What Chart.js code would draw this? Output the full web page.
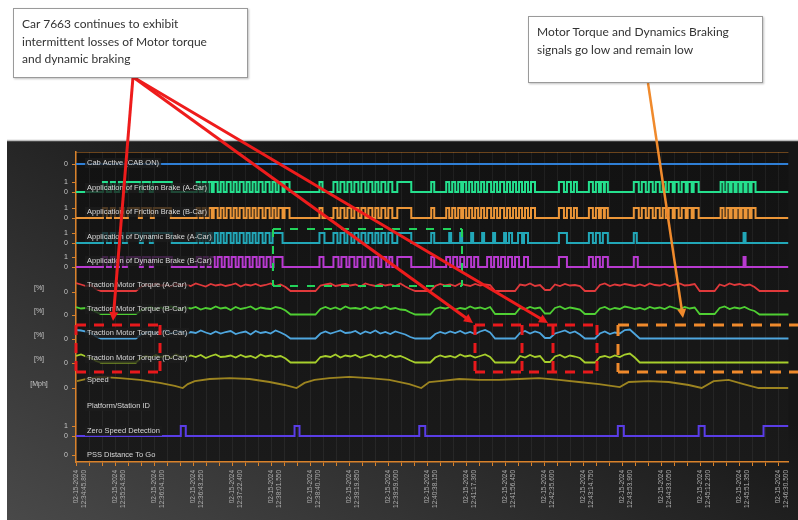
<!DOCTYPE html>
<html><head><meta charset="utf-8">
<script src="https://cdn.jsdelivr.net/npm/chart.js@4.4.1/dist/chart.umd.min.js"></script>
<style>
html,body{margin:0;padding:0;background:#fff;width:798px;height:520px;overflow:hidden;}
#wrap{position:relative;width:798px;height:520px;}
canvas{position:absolute;left:0;top:0;}
.note{position:absolute;background:#fff;border:1.5px solid #9a9a9a;box-shadow:1px 1px 2px rgba(0,0,0,0.25);font-family:Lato,'Open Sans',sans-serif;font-size:12px;line-height:17.5px;color:#333;padding:6px 8px;box-sizing:border-box;white-space:nowrap;}
</style></head><body>
<div id="wrap"><canvas id="c" width="798" height="520"></canvas>
<div class="note" style="left:13px;top:8px;width:235px;height:70px;">Car 7663 continues to exhibit<br>intermittent losses of Motor torque<br>and dynamic braking</div>
<div class="note" style="left:528px;top:16px;width:235px;height:67px;">Motor Torque and Dynamics Braking<br>signals go low and remain low</div>
</div>
<script>
// ---------------- DATA ----------------
const dateLabel = '02-15-2024';
const timeLabels = ['12:34:45.800','12:35:24.950','12:36:04.100','12:36:43.250','12:37:22.400','12:38:01.550','12:38:40.700','12:39:19.850','12:39:59.000','12:40:38.150','12:41:17.300','12:41:56.450','12:42:35.600','12:43:14.750','12:43:53.900','12:44:33.050','12:45:12.200','12:45:51.350','12:46:30.500'];
const signalNames = ['Cab Active (CAB ON)','Application of Friction Brake (A-Car)','Application of Friction Brake (B-Car)','Application of Dynamic Brake (A-Car)','Application of Dynamic Brake (B-Car)','Traction Motor Torque (A-Car)','Traction Motor Torque (B-Car)','Traction Motor Torque (C-Car)','Traction Motor Torque (D-Car)','Speed','Platform/Station ID','Zero Speed Detection','PSS Distance To Go'];
const cabState = 0;
// digital signals: times (s) at which the signal toggles, starting low
const app1Edges = [27,31,35,39,43,47,51,64,67,74,77,96,121,124,127,130,133,136,138,142,145,148,151,155,158,161,164,168,171,174,177,180,183,187,190,194,197,200,203,207,209,214,244,247,258,262,265,269,272,276,279,283,286,290,293,297,300,303,306,310,313,317,322,336,356,359,371,374,377,380,383,386,388,391,394,397,400,403,406,409,412,416,419,422,425,429,432,435,438,441,444,447,450,453,456,460,484,489,492,496,499,502,514,518,521,524,526,529,530,533,559,564,567,571,574,578,581,585,588,591,594,598,600,604,607,611,613,617,619,624,646,649,652,655,657,660,662,665,667,670,672,675,677,681];
const app2Edges = [27,31,35,39,44,48,52,63,66,75,78,95,121,124,127,130,133,136,138,142,145,148,151,155,158,161,164,168,171,174,177,180,183,187,190,194,197,200,203,207,209,214,244,247,258,262,265,269,272,276,279,283,286,290,293,297,300,303,306,310,313,317,322,336,356,359,371,374,377,380,383,386,388,391,394,397,400,403,406,409,412,416,419,422,425,429,432,435,438,441,444,447,450,453,456,460,484,489,492,496,499,502,514,518,521,524,526,529,530,533,559,564,567,571,574,578,581,585,588,591,594,598,600,604,607,611,613,617,619,624,646,649,652,655,657,660,662,665,667,670,672,675,677,681];
const app3Edges = [27,31,35,39,43,47,51,64,67,74,77,96,121,124,127,130,133,136,139,142,145,148,151,155,158,161,164,168,171,174,177,180,183,187,190,194,197,207,244,249,258,262,265,269,272,276,279,283,286,290,293,297,300,303,306,310,313,317,322,336,356,359,374,376,385,387,396,398,407,409,418,420,429,431,434,437,443,447,449,453,484,492,514,518,521,525,528,533,559,562,669,671];
const app4Edges = [27,31,35,39,43,47,51,64,67,74,77,96,121,125,128,132,135,139,142,146,149,153,156,160,163,167,170,174,177,181,184,188,191,195,198,207,244,248,258,263,266,271,274,279,282,287,290,295,298,303,306,311,314,317,322,336,356,359,371,375,378,382,385,389,392,396,399,403,412,416,419,423,426,430,433,437,440,444,449,453,484,492,514,518,521,525,528,533,559,563,669,671];
const zeroSpeedEdges = [105,110,219,224,344,350,543,549,624,630,689];
// torque [%], one sample every 5 s
const torque1 = [90,75,60,70,30,10,10,10,10,10,10,10,10,50,75,60,85,65,70,55,80,65,75,60,85,70,55,80,65,75,60,70,85,55,75,65,80,60,70,85,60,75,50,10,10,10,10,10,10,65,75,85,60,70,80,65,75,55,85,70,60,80,65,75,60,85,55,30,10,10,10,10,60,80,65,75,60,85,70,60,80,65,75,70,10,10,10,10,10,75,65,85,60,70,20,20,75,60,80,65,70,60,10,10,10,70,85,60,75,65,80,70,60,75,60,85,70,65,80,60,75,85,65,70,80,10,10,10,10,75,60,85,70,80,65,75,50,10,10,10,10,10,10,10];
const torque2 = [80,65,70,55,30,10,10,10,10,10,10,10,10,45,65,80,55,75,60,85,70,50,75,65,80,55,70,60,85,65,75,50,80,60,70,85,55,75,65,60,80,70,45,5,5,5,5,5,5,60,80,60,75,55,85,65,70,60,80,55,75,65,85,60,70,55,50,25,5,5,5,5,60,75,65,80,55,70,60,85,65,75,60,80,10,10,10,10,10,70,60,80,65,75,15,15,70,85,60,75,65,55,10,10,10,65,80,55,70,60,85,75,60,70,55,80,65,75,60,85,70,55,80,65,75,10,10,10,10,70,85,60,75,65,80,55,40,5,5,5,5,5,5,5];
const torque3 = [90,85,75,60,25,5,5,5,5,5,5,5,5,45,60,75,50,70,85,55,65,80,45,70,60,85,65,50,75,55,70,80,50,65,75,45,80,60,70,55,85,65,40,5,5,5,5,5,5,55,75,55,70,85,60,65,80,50,75,60,85,55,70,50,75,60,45,20,5,5,5,5,50,70,55,75,60,80,55,70,50,75,90,65,5,5,5,5,5,60,80,55,75,60,10,10,55,70,85,60,75,45,5,5,5,55,75,50,65,55,90,95,50,5,5,5,5,5,5,5,5,5,5,5,5,5,5,5,5,5,5,5,5,5,5,5,5,5,5,5,5,5,5,5];
const torque4 = [70,85,65,50,20,5,5,5,5,5,5,5,5,50,70,55,80,60,75,50,85,65,55,75,60,80,50,70,85,60,65,75,55,80,60,70,50,85,65,75,60,70,45,5,5,5,5,5,5,60,70,60,85,55,75,65,80,55,70,85,60,75,55,80,60,70,50,25,5,5,5,5,55,75,60,70,55,85,65,75,55,70,85,60,5,5,5,5,5,70,55,80,60,70,10,10,65,80,55,75,65,50,5,5,5,60,70,55,75,60,85,95,55,5,5,5,5,5,5,5,5,5,5,5,5,5,5,5,5,5,5,5,5,5,5,5,5,5,5,5,5,5,5,5];
const speedTimes = [1,14,24,44,64,84,99,107,112,119,134,154,174,194,209,221,229,239,254,274,294,314,334,346,354,364,384,404,424,444,464,484,504,524,545,554,574,594,614,627,639,654,669,684,714];
const speedMph  = [23,33,37,33,27,17,7,0,13,23,30,33,30,20,10,0,17,27,33,37,33,27,13,0,20,23,30,27,27,30,33,27,20,13,3,20,23,20,10,0,23,27,13,0,0];

// ---------------- LAYOUT ----------------
const PLOT_TOP = 152, PLOT_BOTTOM = 462, XMAX = 714, MAJOR = 39.1, SAMPLE = 5;
const FONT = "'Liberation Sans', Arial, sans-serif";
const ORANGE = '#d9822b';
const rows = [
  {base:164, h:0,   ticks:[0], color:'#2f7fd6'},
  {base:192, h:10,  ticks:[0,1], color:'#25e08e'},
  {base:218, h:10,  ticks:[0,1], color:'#ec9638'},
  {base:243, h:10,  ticks:[0,1], color:'#22a7b8'},
  {base:267, h:10,  ticks:[0,1], color:'#b83ad0'},
  {base:292, h:0.1, ticks:[0], unit:'[%]', color:'#e0393b'},
  {base:315, h:0.1, ticks:[0], unit:'[%]', color:'#4fcf33'},
  {base:339, h:0.1, ticks:[0], unit:'[%]', color:'#4ea6de'},
  {base:363, h:0.1, ticks:[0], unit:'[%]', color:'#a7cf2c'},
  {base:388, h:0.3, ticks:[0], unit:'[Mph]', color:'#9c8420'},
  {base:406, h:0,   ticks:[]},
  {base:436, h:10,  ticks:[0,1], color:'#5a3de6'},
  {base:455, h:0,   ticks:[0]}
];
const labelY = [163,188,212,237,261,285,309,333,358,380,406,431,455];
function yv(r, raw){ return (PLOT_BOTTOM - rows[r].base) + raw*rows[r].h; }
function stepPts(edges, r){
  const pts=[{x:0,y:yv(r,0)}]; let s=0;
  for(const e of edges){ s=1-s; pts.push({x:e,y:yv(r,s)}); }
  pts.push({x:XMAX,y:yv(r,s)}); return pts;
}
function samplePts(vals, r){ return vals.map((v,i)=>({x:i*SAMPLE,y:yv(r,v)})); }
const yTickMap = new Map();
rows.forEach((r,i)=>r.ticks.forEach(t=>yTickMap.set(Math.round(yv(i,t)*10)/10, String(t))));

const digital = (label, edges, r)=>({label, data:stepPts(edges,r), borderColor:rows[r].color, borderWidth:2, stepped:'before', pointRadius:0});
const analog = (label, data, r, w)=>({label, data, borderColor:rows[r].color, borderWidth:w||1.8, pointRadius:0, tension:0});

const datasets = [
  analog(signalNames[0], [{x:0,y:yv(0,cabState)},{x:XMAX,y:yv(0,cabState)}], 0, 2.2),
  digital(signalNames[1], app1Edges, 1),
  digital(signalNames[2], app2Edges, 2),
  digital(signalNames[3], app3Edges, 3),
  digital(signalNames[4], app4Edges, 4),
  analog(signalNames[5], samplePts(torque1,5), 5),
  analog(signalNames[6], samplePts(torque2,6), 6),
  analog(signalNames[7], samplePts(torque3,7), 7),
  analog(signalNames[8], samplePts(torque4,8), 8),
  analog(signalNames[9], speedTimes.map((t,i)=>({x:t,y:yv(9,speedMph[i])})), 9, 1.8),
  digital(signalNames[11], zeroSpeedEdges, 11)
];

// ---------------- PLUGINS ----------------
const bgPlugin = {
  id:'bg',
  beforeDraw(chart){
    const c=chart.ctx, a=chart.chartArea;
    c.save();
    const g=c.createLinearGradient(300,140,60,560);
    g.addColorStop(0,'#161616'); g.addColorStop(1,'#4a4a4a');
    c.fillStyle=g; c.fillRect(7,140,791,380);
    const g2=c.createLinearGradient(0,a.top,0,a.bottom);
    g2.addColorStop(0,'#121212'); g2.addColorStop(1,'#1a1a1a');
    c.fillStyle=g2; c.fillRect(a.left,a.top,a.right-a.left,a.bottom-a.top);
    c.strokeStyle='#bdbdbd'; c.lineWidth=1.5;
    c.beginPath(); c.moveTo(7,140.5); c.lineTo(798,140.5); c.stroke();
    c.strokeStyle='rgba(217,130,43,0.45)'; c.lineWidth=1;
    c.beginPath(); c.moveTo(a.left,a.top+0.5); c.lineTo(a.right,a.top+0.5); c.stroke();
    c.restore();
  },
  afterDatasetsDraw(chart){
    const c=chart.ctx, a=chart.chartArea;
    c.save();
    c.font='7.5px '+FONT; c.textBaseline='middle';
    signalNames.forEach((n,i)=>{
      const w=c.measureText(n).width;
      c.fillStyle='rgba(28,28,28,0.78)';
      c.fillRect(a.left+9,labelY[i]-5,w+4,10);
      c.fillStyle='#d8d8d8';
      c.fillText(n,a.left+11,labelY[i]);
    });
    c.font='7px '+FONT; c.fillStyle='#c8c8c8'; c.textAlign='center';
    rows.forEach((r,i)=>{ if(r.unit) c.fillText(r.unit,39,r.base-4); });
    c.restore();
  },
  afterDraw(chart){
    const c=chart.ctx;
    c.save();
    const dashRect=(x1,y1,x2,y2,col,w,dash,sides)=>{
      c.strokeStyle=col; c.lineWidth=w; c.setLineDash(dash);
      c.beginPath();
      if(sides.includes('t')){c.moveTo(x1,y1);c.lineTo(x2,y1);}
      if(sides.includes('b')){c.moveTo(x1,y2);c.lineTo(x2,y2);}
      if(sides.includes('l')){c.moveTo(x1,y1);c.lineTo(x1,y2);}
      if(sides.includes('r')){c.moveTo(x2,y1);c.lineTo(x2,y2);}
      c.stroke();
    };
    dashRect(273,229,462,286,'#22d35a',2,[8,9],'tblr');
    dashRect(76,325,160,372,'#e8191c',3,[10,8],'tblr');
    dashRect(475,325,597,372,'#e8191c',3,[10,8],'tblr');
    dashRect(522,325,522,372,'#e8191c',3,[10,8],'l');
    dashRect(553,325,553,372,'#e8191c',3,[10,8],'l');
    dashRect(618,325,800,372,'#f08a2c',3,[11,8],'tbl');
    c.setLineDash([]);
    const arrow=(x1,y1,x2,y2,col,w)=>{
      c.strokeStyle=col; c.fillStyle=col; c.lineWidth=w;
      const ang=Math.atan2(y2-y1,x2-x1), L=9;
      c.beginPath(); c.moveTo(x1,y1); c.lineTo(x2-Math.cos(ang)*L*0.7,y2-Math.sin(ang)*L*0.7); c.stroke();
      c.beginPath(); c.moveTo(x2,y2);
      c.lineTo(x2-L*Math.cos(ang)+4.5*Math.sin(ang), y2-L*Math.sin(ang)-4.5*Math.cos(ang));
      c.lineTo(x2-L*Math.cos(ang)-4.5*Math.sin(ang), y2-L*Math.sin(ang)+4.5*Math.cos(ang));
      c.closePath(); c.fill();
    };
    arrow(133,77,113,321,'#ee1c1c',3);
    arrow(133,77,473,323,'#ee1c1c',3);
    arrow(133,77,548,323,'#ee1c1c',3);
    arrow(648,83,683,318,'#f08a2c',2.5);
    c.restore();
  }
};

new Chart(document.getElementById('c'), {
  type:'line',
  data:{datasets},
  options:{
    responsive:false, animation:false, devicePixelRatio:1,
    layout:{padding:{top:PLOT_TOP,right:8,left:0,bottom:0}},
    plugins:{legend:{display:false},tooltip:{enabled:false}},
    scales:{
      x:{type:'linear',min:0,max:XMAX,
        afterBuildTicks(s){ const t=[]; for(let k=0;k<=54;k++) t.push({value:k*MAJOR/3}); s.ticks=t; },
        afterFit(s){ s.height=520-PLOT_BOTTOM; },
        ticks:{autoSkip:false,maxRotation:90,minRotation:90,color:'#b0b0b0',padding:4,
          font:{size:6.5,family:FONT},
          callback(v,i){ return i%3===0 ? [dateLabel, timeLabels[i/3]] : ''; }},
        grid:{color:'rgba(255,255,255,0.06)',tickColor:ORANGE,tickLength:4},
        border:{color:ORANGE,width:1.5}
      },
      y:{min:0,max:PLOT_BOTTOM-PLOT_TOP,
        afterBuildTicks(s){ s.ticks=[...yTickMap.keys()].map(v=>({value:v})); },
        afterFit(s){ s.width=76; },
        ticks:{autoSkip:false,color:'#c8c8c8',padding:4,font:{size:7,family:FONT},
          callback(v){ return yTickMap.get(Math.round(v*10)/10) ?? ''; }},
        grid:{drawOnChartArea:false,tickColor:ORANGE,tickLength:4},
        border:{color:ORANGE,width:1.5}
      }
    }
  },
  plugins:[bgPlugin]
});
</script>
</body></html>
